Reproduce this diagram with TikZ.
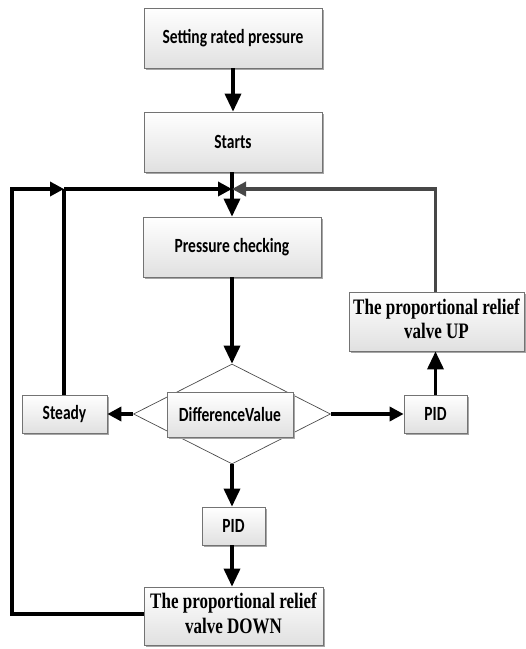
\documentclass[tikz,border=0pt]{standalone}
\usepackage{fontspec}
\setmainfont{Carlito}
\newfontfamily\timesf{Liberation Serif}
\usetikzlibrary{arrows.meta,shapes.geometric,shadows}
\newcommand{\vsc}[1]{\scalebox{1}[1.3]{#1}}
\newcommand{\cbtext}[1]{\vsc{\fontsize{15.5}{18}\selectfont\bfseries #1}}
\newcommand{\tmstext}[2]{\vsc{\timesf\fontsize{17}{19}\selectfont\bfseries\begin{tabular}{@{}c@{}}#1\\#2\end{tabular}}}
\tikzset{
  box/.style={draw=black!55, line width=0.7pt, top color=white, bottom color=black!12,
    inner sep=0pt, drop shadow={shadow xshift=1.8pt, shadow yshift=-1.8pt, fill=black!35, opacity=1}},
  dia/.style={draw=black!70, line width=0.7pt, fill=white, shape=diamond, inner sep=0pt, aspect=2},
  varr/.style={line width=3.4pt, -{Triangle[length=18pt,width=16pt]}},
  harr/.style={line width=3.4pt, -{Triangle[length=14pt,width=14pt]}},
  plain/.style={line width=3.4pt}
}
\begin{document}
\begin{tikzpicture}[x=1pt,y=-1pt]
\useasboundingbox (0,0) rectangle (526,649);
\node[box, minimum width=178pt, minimum height=60pt] (set) at (233,38) {\cbtext{Setting rated pressure}};
\node[box, minimum width=178pt, minimum height=60pt] (start) at (233,142) {\cbtext{Starts}};
\node[box, minimum width=178pt, minimum height=60pt] (pc) at (232,247) {\cbtext{Pressure checking}};
\node[dia, minimum width=197pt, minimum height=100pt] (dia) at (232,414) {};
\node[box, minimum width=126pt, minimum height=45pt] (dv) at (230,414.5) {\cbtext{DifferenceValue}};
\node[box, minimum width=85pt, minimum height=38pt] (steady) at (64.5,414) {\cbtext{Steady}};
\node[box, minimum width=63pt, minimum height=38pt] (pidr) at (435.5,414) {\cbtext{PID}};
\node[box, minimum width=175pt, minimum height=59pt] (up) at (436.5,321.5) {\tmstext{The proportional relief}{valve UP}};
\node[box, minimum width=63pt, minimum height=38pt] (pidb) at (233.5,526) {\cbtext{PID}};
\node[box, minimum width=179pt, minimum height=58pt] (down) at (233.5,616) {\tmstext{The proportional relief}{valve DOWN}};
\coordinate (j) at (232,189);
\coordinate (jl) at (64,189);
\coordinate (c1) at (12,614);
\coordinate (c2) at (12,189);

\draw[varr] (set.south) -- (start.north);
\draw[varr] (start.south -| j) -- (pc.north -| j);
\draw[varr] (pc.south -| dia.north) -- (dia.north);
\draw[harr] (dia.west) -- (steady.east);
\draw[harr] (dia.east) -- (pidr.west);
\draw[varr] (dia.south) -- (pidb.north -| dia.south);
\draw[varr] (pidb.south -| dia.south) -- (down.north -| dia.south);
\draw[varr] (pidr.north) -- (up.south -| pidr.north);
\draw[plain] (steady.north -| jl) -- (jl);
\draw[harr] (jl) -- (j);
\draw[harr] (down.west |- c1) -- (c1) -- (c2) -- (jl);
\draw[harr, color=black!72] (up.north -| pidr.north) |- (j);
\end{tikzpicture}
\end{document}
